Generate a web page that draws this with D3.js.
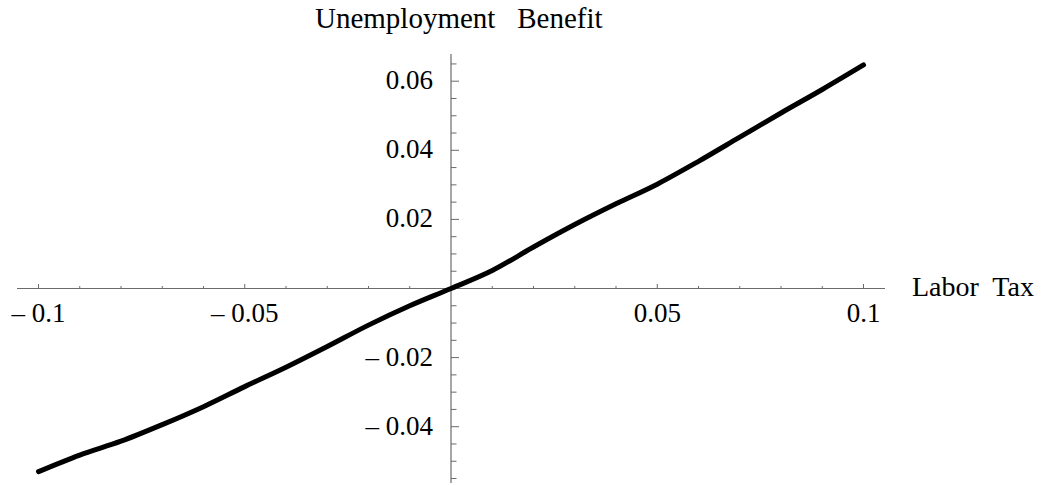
<!DOCTYPE html>
<html>
<head>
<meta charset="utf-8">
<title>Unemployment Benefit vs Labor Tax</title>
<script src="https://d3js.org/d3.v7.min.js"></script>
<style>
    body { margin: 0; background: white; }
    text { font-family: "Liberation Serif", "DejaVu Serif", serif; fill: #000; }
</style>
</head>
<body>
<div id="chart"></div>
<script>
// data
var laborTax = [-0.10, -0.09, -0.08, -0.07, -0.06, -0.05, -0.04, -0.03, -0.02, -0.01, 0,
                0.01, 0.02, 0.03, 0.04, 0.05, 0.06, 0.07, 0.08, 0.09, 0.10];
var benefit = [-0.0530, -0.0482, -0.0442, -0.0394, -0.0342, -0.0284, -0.0228, -0.0168, -0.0106, -0.0050, 0,
               0.0052, 0.0120, 0.0185, 0.0245, 0.0302, 0.0368, 0.0438, 0.0508, 0.0576, 0.0647];
var xTicks = [-0.1, -0.05, 0.05, 0.1];
var yTicks = [-0.04, -0.02, 0.02, 0.04, 0.06];
var xMinor = d3.range(-10, 11).map(function (i) { return i / 100; });
var yMinor = d3.range(-11, 14).map(function (i) { return i * 0.005; });

var width = 1041, height = 485;

var svg = d3.select("#chart").append("svg")
    .attr("width", width)
    .attr("height", height);

// scales (origin sits at about 451, 288.5)
var x = d3.scaleLinear().domain([-0.1, 0.1]).range([38.5, 863.5]);
var y = d3.scaleLinear().domain([-0.06, 0.06]).range([495.8, 81.2]);

var axisColor = "#6b6b6b";
var fmt = function (v) {
    var s = String(Math.abs(+v.toFixed(3)));
    return v < 0 ? "\u2013 " + s : s;
};

// x axis
svg.append("line")
    .attr("x1", 17).attr("x2", 885)
    .attr("y1", y(0)).attr("y2", y(0))
    .style("stroke", axisColor).style("stroke-width", 1.2);

svg.selectAll(".xtick")
    .data(xMinor.filter(function (d) { return Math.abs(d) > 1e-9; }))
    .enter().append("line")
    .attr("x1", function (d) { return x(d); })
    .attr("x2", function (d) { return x(d); })
    .attr("y1", y(0))
    .attr("y2", function (d) {
        var major = Math.abs(Math.round(d * 100) % 5) === 0;
        return y(0) - (major ? 4.5 : 2.5);
    })
    .style("stroke", axisColor).style("stroke-width", 1);

svg.selectAll(".xlab")
    .data(xTicks)
    .enter().append("text")
    .attr("x", function (d) { return x(d); })
    .attr("y", y(0) + 33)
    .attr("text-anchor", "middle")
    .style("font-size", "27px")
    .text(fmt);

// y axis
svg.append("line")
    .attr("x1", x(0)).attr("x2", x(0))
    .attr("y1", 54).attr("y2", 483)
    .style("stroke", axisColor).style("stroke-width", 1.2);

svg.selectAll(".ytick")
    .data(yMinor.filter(function (d) { return Math.abs(d) > 1e-9; }))
    .enter().append("line")
    .attr("y1", function (d) { return y(d); })
    .attr("y2", function (d) { return y(d); })
    .attr("x1", x(0))
    .attr("x2", function (d) {
        var major = Math.abs(Math.round(d * 1000) % 20) === 0;
        return x(0) + (major ? 8 : 5.5);
    })
    .style("stroke", axisColor).style("stroke-width", 1);

svg.selectAll(".ylab")
    .data(yTicks)
    .enter().append("text")
    .attr("x", x(0) - 18)
    .attr("y", function (d) { return y(d) + 8; })
    .attr("text-anchor", "end")
    .style("font-size", "27px")
    .text(fmt);

// axis titles
svg.append("text")
    .attr("x", 315).attr("y", 28)
    .style("font-size", "29px")
    .style("white-space", "pre")
    .text("Unemployment   Benefit");

svg.append("text")
    .attr("x", 912).attr("y", 296)
    .style("font-size", "28px")
    .style("white-space", "pre")
    .text("Labor  Tax");

// the curve
var line = d3.line()
    .x(function (d, i) { return x(laborTax[i]); })
    .y(function (d) { return y(d); })
    .curve(d3.curveMonotoneX);

svg.append("path")
    .datum(benefit)
    .attr("d", line)
    .style("fill", "none")
    .style("stroke", "#000")
    .style("stroke-width", 5)
    .style("stroke-linecap", "round")
    .style("stroke-linejoin", "round");
</script>
</body>
</html>
